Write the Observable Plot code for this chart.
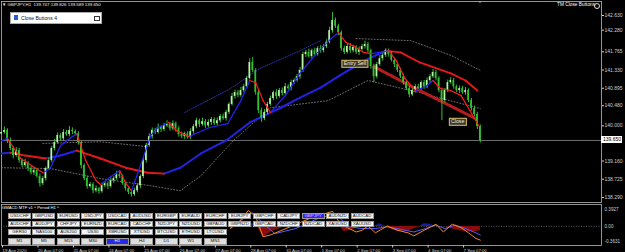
<!DOCTYPE html>
<html>
<head>
<meta charset="utf-8">
<script src="https://cdn.jsdelivr.net/npm/d3@7"></script>
<script src="https://cdn.jsdelivr.net/npm/@observablehq/plot@0.6"></script>
<style>
  html, body { margin:0; padding:0; background:#000; }
  #wrap { position:relative; width:625px; height:252px; background:#000; overflow:hidden;
          font-family:"Liberation Sans", Arial, sans-serif; }
  #wrap svg { position:absolute; left:0; }
  .t { position:absolute; white-space:nowrap; line-height:1; color:#fff; }
  .tag { position:absolute; white-space:nowrap; line-height:1; color:#f2ead0; font-size:5.2px; background:#3a3a34;
         border:0.7px solid #d2ba68; padding:0.6px 1.5px; transform:translate(-50%,-50%); }
  .btn { position:absolute; box-sizing:border-box; background:#f3f3f3; border:0.5px solid #999;
         color:#111; font-size:4.4px; line-height:1; display:flex; align-items:center; justify-content:center; white-space:nowrap; }
  .btn.tf { background:#dedede; }
  .btn.on { background:#2a2ae6; color:#fff; }
  .btn.onp { background:#2a2ae6; color:#f4b4ff; }
</style>
</head>
<body>
<div id="wrap"></div>
<script>
// ---------- DATA (GBPJPY H1, one candle per 2 bars) ----------
const closes = [
139.84,139.89,139.65,139.46,139.29,139.41,139.17,139.05,139.12,138.98,
138.88,138.93,138.79,138.62,138.74,138.98,139.17,139.46,139.60,139.77,
139.69,139.84,139.79,139.89,139.86,139.81,139.60,139.05,138.74,138.55,
138.60,138.45,138.50,138.43,138.57,138.62,138.55,138.69,138.74,138.83,
138.79,138.62,138.50,138.41,138.36,138.45,138.57,138.79,139.17,139.53,
139.74,139.89,139.84,139.96,139.91,140.00,140.03,139.93,140.05,139.93,
139.79,139.74,139.81,139.72,139.86,139.98,140.12,140.03,140.10,140.00,
140.08,140.15,140.05,140.12,140.22,140.17,140.32,140.51,140.70,140.79,
140.72,140.84,140.93,141.13,141.51,141.32,140.79,140.36,140.17,140.32,
140.51,140.65,140.79,140.70,140.84,140.77,140.93,140.89,141.03,141.08,
141.17,141.32,141.70,141.75,141.65,141.79,141.70,141.84,141.79,141.89,
141.99,142.27,142.51,142.37,142.22,141.84,141.75,141.89,141.79,141.87,
141.75,141.82,141.89,141.94,141.79,141.41,141.17,141.46,141.60,141.68,
141.79,141.70,141.56,141.46,141.32,141.17,141.03,140.89,140.74,140.84,
140.93,140.89,141.03,140.93,141.08,141.17,141.27,141.13,140.84,140.60,
140.84,141.03,141.08,140.93,140.84,140.89,140.79,140.84,140.60,140.41,
140.27,139.98,139.65];
const firstOpen = 139.80;
const wickHi = [
0.05,0.08,0.04,0.06,0.03,0.07,0.05,0.04,0.08,0.03,
0.05,0.07,0.04,0.06,0.05,0.04,0.06,0.05,0.08,0.06,
0.04,0.07,0.05,0.09,0.06,0.04,0.05,0.03,0.04,0.06,
0.05,0.04,0.07,0.03,0.06,0.05,0.04,0.07,0.05,0.09,
0.06,0.04,0.03,0.05,0.04,0.06,0.05,0.04,0.06,0.05,
0.07,0.06,0.05,0.08,0.04,0.06,0.09,0.05,0.07,0.04,
0.05,0.06,0.04,0.05,0.07,0.05,0.06,0.04,0.08,0.05,
0.06,0.05,0.04,0.07,0.05,0.06,0.05,0.04,0.07,0.06,
0.05,0.08,0.06,0.05,0.09,0.12,0.04,0.05,0.06,0.07,
0.05,0.06,0.04,0.07,0.05,0.06,0.08,0.05,0.06,0.04,
0.05,0.07,0.06,0.05,0.08,0.04,0.06,0.05,0.07,0.05,
0.06,0.08,0.19,0.06,0.05,0.04,0.06,0.05,0.07,0.05,
0.04,0.06,0.05,0.08,0.05,0.04,0.06,0.05,0.07,0.06,
0.05,0.04,0.06,0.05,0.04,0.05,0.06,0.04,0.05,0.07,
0.05,0.06,0.04,0.05,0.06,0.05,0.07,0.05,0.04,0.06,
0.05,0.06,0.07,0.05,0.04,0.06,0.05,0.07,0.04,0.05,
0.06,0.05,0.04];
const wickLo = [
0.06,0.04,0.07,0.05,0.08,0.04,0.06,0.05,0.04,0.07,
0.05,0.06,0.04,0.08,0.05,0.06,0.04,0.05,0.06,0.04,
0.05,0.06,0.04,0.05,0.07,0.05,0.06,0.08,0.05,0.06,
0.04,0.07,0.05,0.06,0.04,0.05,0.07,0.04,0.06,0.05,
0.05,0.04,0.06,0.05,0.06,0.04,0.05,0.07,0.05,0.06,
0.04,0.06,0.05,0.04,0.07,0.05,0.04,0.06,0.05,0.08,
0.06,0.05,0.07,0.04,0.05,0.06,0.05,0.07,0.04,0.06,
0.05,0.07,0.04,0.06,0.05,0.04,0.06,0.05,0.04,0.06,
0.05,0.04,0.06,0.05,0.04,0.05,0.06,0.07,0.09,0.05,
0.06,0.04,0.05,0.07,0.04,0.06,0.05,0.04,0.06,0.05,
0.04,0.06,0.05,0.07,0.04,0.06,0.05,0.04,0.06,0.05,
0.05,0.04,0.06,0.05,0.07,0.06,0.05,0.04,0.06,0.05,
0.05,0.07,0.04,0.06,0.05,0.06,0.14,0.05,0.04,0.06,
0.05,0.06,0.04,0.07,0.05,0.04,0.06,0.05,0.07,0.04,
0.06,0.05,0.04,0.06,0.05,0.07,0.04,0.06,0.05,0.48,
0.06,0.05,0.04,0.06,0.05,0.07,0.04,0.06,0.05,0.06,
0.05,0.07,0.06];

// fast MA (colour changes with direction)
const fastBars = [0,4,13,28,33,40,47,51,57,64,67,74,80,84,88,94,101,106,113,118,127,131,141,153,162,168,172,177,182,192,202,212,223,228,233,240,245,250,256,262,267,273,280,287,292,297,304,311,317,323];
const fastVals = [139.64,139.70,139.22,138.88,138.98,139.53,139.72,139.81,139.17,138.69,138.60,138.79,138.93,138.64,138.45,139.05,139.77,139.96,140.08,139.89,139.74,139.81,139.96,140.05,140.60,141.08,141.03,140.60,140.32,140.72,141.25,141.68,142.08,142.22,141.99,141.87,141.75,141.72,141.75,141.79,141.56,141.13,140.84,140.93,141.08,140.89,140.84,140.72,140.36,140.00];
// slow MA
const slowBars = [0,6,16,30,40,51,67,84,99,110,121,135,152,168,189,202,216,229,246,260,270,283,304,314,322];
const slowVals = [139.34,139.36,139.29,139.22,139.29,139.41,139.22,139.00,138.88,138.86,139.00,139.34,139.65,140.08,140.43,140.67,140.91,141.20,141.56,141.79,141.75,141.51,141.25,141.08,140.84];
// dotted envelopes / channels
const lowerBars = [0,33,67,101,121,135,157,182,221,248,283,324];
const lowerVals = [139.00,138.98,138.74,138.57,138.45,138.81,139.65,140.43,140.60,141.08,140.79,140.41];
const upperABars = [28,67,99];
const upperAVals = [139.58,139.62,139.50];
const upperBBars = [240,277,304,324];
const upperBVals = [142.08,142.03,141.68,141.32];
const blueDotBars = [124,155,175,202,216];
const blueDotVals = [140.32,140.89,141.37,141.79,142.03];
const redDotBars = [252,283,321];
const redDotVals = [141.41,140.84,140.17];

const currentPrice = 139.65;
const priceTicks = [142.630,142.280,141.765,141.330,140.895,140.480,140.000,139.160,138.725,138.290];
const tagBars = [239.5, 309];
const tagPrices = [141.47, 140.09];
const tagTexts = ["Entry Sell", "Close"];

// MACD MTF pane
const macdOBars = [155,162,167,172,177,182,196,209,224,229,234,240,244,248,253,261,268,275,279,286,294,299,305,311,316,321,324];
const macdOVals = [-0.05,0.15,0.37,0.23,-0.24,-0.20,0.00,0.19,0.35,0.07,-0.03,-0.13,-0.09,0.01,-0.15,0.01,-0.09,-0.15,-0.22,-0.09,0.05,-0.13,0.05,-0.03,-0.15,-0.28,-0.32];
const macdBBars = [155,165,170,177,185,199,216,226,233,236,244,253,261,270,279,287,294,300,307,314,321,324];
const macdBVals = [-0.03,0.21,0.31,0.07,-0.17,-0.05,0.21,0.27,0.07,-0.01,-0.05,-0.05,-0.01,-0.07,-0.13,-0.05,0.03,-0.05,0.03,-0.05,-0.15,-0.20];
const histBars = [150,160,168,173,177,183,192,210,218,226,229,232,237,241,252,256,260,264,268,276,283,286,290,294,301,304,310,318,324];
const histVals = [0,0.08,0.10,0,-0.25,-0.12,0,0,0.04,0.06,0,-0.12,-0.09,0,0,0.06,0,-0.07,-0.12,-0.10,0,0.06,0.05,0,0,-0.05,-0.10,-0.13,-0.10];
const macdTicks = [0.3927, 0, -0.3631];

const dayBars = [0,24,48,72,96,120,144,168,192,216,240,264,288,312];
const dayLabels = ["19 Aug 2020","20 Aug 07:00","21 Aug 07:00","24 Aug 07:00","25 Aug 07:00","26 Aug 07:00","27 Aug 07:00","28 Aug 07:00","31 Aug 07:00","1 Sep 07:00","2 Sep 07:00","3 Sep 07:00","4 Sep 07:00","7 Sep 07:00"];

const row1 = ["USDCHF","GBPUSD","EURUSD","USDJPY","USDCAD","AUDUSD","EURGBP","EURAUD","EURCHF","EURJPY","GBPCHF","CADJPY","GBPJPY","AUDNZD","AUDCAD"];
const row2 = ["AUDCHF","AUDJPY","CHFJPY","EURNZD","EURCAD","CADCHF","NZDJPY","NZDUSD","GBPAUD","GBPNZD","GBPCAD","NZDCHF","NZDCAD","XAGUSD","XAUUSD"];
const row3 = ["GER30","NAS100","AUS200","US30","XBRUSD","XTIUSD","BTCUSD","ETHUSD","LTCUSD"];
const row4 = ["M1","M5","M15","M30","H1","H4","D1","W1","MN1"];

// ---------- derived tables ----------
const candles = closes.map((c, i) => {
  const o = i ? closes[i - 1] : firstOpen;
  return {bar: 2 * i, open: o, close: c, high: Math.max(o, c) + wickHi[i], low: Math.min(o, c) - wickLo[i], up: c >= o};
});
const pts = (bars, vals) => bars.map((b, i) => ({bar: b, v: vals[i]}));
function segs(bars, vals) {
  const s = [];
  for (let i = 1; i < bars.length; i++) s.push({x1: bars[i-1], y1: vals[i-1], x2: bars[i], y2: vals[i], up: vals[i] >= vals[i-1]});
  return s;
}
const fastSeg = segs(fastBars, fastVals);
const slowSeg = segs(slowBars, slowVals);
const dayMap = new Map(dayBars.map((b, i) => [b, dayLabels[i]]));
const BLUE = "#2424ff", RED = "#ff1c1c";
const FONT = "Liberation Sans, Arial, sans-serif";

const wrap = document.getElementById("wrap");

// ---------- main price pane ----------
const main = Plot.plot({
  width: 625, height: 203,
  marginLeft: 1, marginRight: 24, marginTop: 1, marginBottom: 1,
  style: {background: "transparent", color: "#ccc", fontFamily: FONT, fontSize: "5px", overflow: "visible"},
  x: {domain: [0, 406], axis: null, label: null},
  y: {domain: [138.29, 142.63], range: [197, 15], axis: null, label: null},
  marks: [
    Plot.frame({stroke: "#b8b8b8", strokeWidth: 0.8}),
    Plot.ruleY([currentPrice], {stroke: "#8a8a8a", strokeWidth: 0.8}),
    Plot.line(pts(lowerBars, lowerVals), {x: "bar", y: "v", stroke: "#8c8c8c", strokeWidth: 0.8, strokeDasharray: "1,2"}),
    Plot.line(pts(upperABars, upperAVals), {x: "bar", y: "v", stroke: "#8c8c8c", strokeWidth: 0.8, strokeDasharray: "1,2"}),
    Plot.line(pts(upperBBars, upperBVals), {x: "bar", y: "v", stroke: "#8c8c8c", strokeWidth: 0.8, strokeDasharray: "1,2"}),
    Plot.line(pts(blueDotBars, blueDotVals), {x: "bar", y: "v", stroke: "#3434d0", strokeWidth: 0.9, strokeDasharray: "1,1.5"}),
    Plot.line(pts(redDotBars, redDotVals), {x: "bar", y: "v", stroke: "#b81c1c", strokeWidth: 3, strokeDasharray: "1,1"}),
    Plot.link(slowSeg.filter(d => d.up), {x1: "x1", y1: "y1", x2: "x2", y2: "y2", stroke: "#2323e6", strokeWidth: 2, strokeLinecap: "round"}),
    Plot.link(slowSeg.filter(d => !d.up), {x1: "x1", y1: "y1", x2: "x2", y2: "y2", stroke: "#e81818", strokeWidth: 1.9, strokeLinecap: "round"}),
    Plot.ruleX(candles, {x: "bar", y1: "low", y2: "high", stroke: "#3ad23a", strokeWidth: 0.9}),
    Plot.rect(candles.filter(d => d.up), {x1: d => d.bar - 0.55, x2: d => d.bar + 0.55, y1: "open", y2: "close", fill: "#b8f5a8"}),
    Plot.rect(candles.filter(d => !d.up), {x1: d => d.bar - 0.55, x2: d => d.bar + 0.55, y1: "open", y2: "close", fill: "#2fc42f"}),
    Plot.link(fastSeg.filter(d => d.up), {x1: "x1", y1: "y1", x2: "x2", y2: "y2", stroke: BLUE, strokeWidth: 1.2, strokeLinecap: "round"}),
    Plot.link(fastSeg.filter(d => !d.up), {x1: "x1", y1: "y1", x2: "x2", y2: "y2", stroke: RED, strokeWidth: 1.2, strokeLinecap: "round"}),
    Plot.axisY(priceTicks, {anchor: "right", label: null, tickSize: 2, tickPadding: 1, tickFormat: d => d.toFixed(3), fontSize: 5, color: "#cfcfcf"})
  ]
});
main.style.top = "0px";
wrap.appendChild(main);
const xs = main.scale("x"), ys = main.scale("y");

// ---------- indicator pane ----------
const hist = pts(histBars, histVals);
const ind = Plot.plot({
  width: 625, height: 49,
  marginLeft: 1, marginRight: 24, marginTop: 1, marginBottom: 7,
  style: {background: "transparent", color: "#ccc", fontFamily: FONT, fontSize: "5px", overflow: "visible"},
  x: {domain: [0, 406], axis: null, label: null},
  y: {domain: [-0.3631, 0.3927], range: [38.5, 6], axis: null, label: null},
  marks: [
    Plot.frame({stroke: "#b8b8b8", strokeWidth: 0.8}),
    Plot.ruleY([0], {stroke: "#7a7a7a", strokeWidth: 0.7, strokeDasharray: "1,1.5"}),
    Plot.areaY(hist, {x: "bar", y: d => Math.max(0, d.v), fill: "#1c1ca0"}),
    Plot.areaY(hist, {x: "bar", y: d => Math.min(0, d.v), fill: "#8c0c0c"}),
    Plot.line(pts(macdBBars, macdBVals), {x: "bar", y: "v", stroke: "#5a5aff", strokeWidth: 1}),
    Plot.line(pts(macdOBars, macdOVals), {x: "bar", y: "v", stroke: "#f08a2a", strokeWidth: 1}),
    Plot.axisY(macdTicks, {anchor: "right", label: null, tickSize: 0, tickPadding: 3, tickFormat: d => d === 0 ? "0.00" : String(d), fontSize: 4.6, color: "#cfcfcf"}),
    Plot.axisX(dayBars, {anchor: "bottom", label: null, tickSize: 2.5, tickPadding: 0.5, tickFormat: d => dayMap.get(d), textAnchor: "start", dx: 1, fontSize: 4.3, color: "#cfcfcf"})
  ]
});
ind.style.top = "203px";
wrap.appendChild(ind);

// ---------- terminal overlays ----------
function add(html, css, cls) {
  const d = document.createElement("div");
  d.className = cls || "t"; d.innerHTML = html; d.style.cssText = css; wrap.appendChild(d); return d;
}
// trade labels placed through the price chart's scales
tagTexts.forEach((txt, i) => add(txt, `left:${xs.apply(tagBars[i])}px;top:${ys.apply(tagPrices[i])}px;`, "tag"));

add("&#9660;&nbsp;GBPJPY,H1&nbsp;&nbsp;139.747 139.826 139.589 139.650", "left:2px;top:3px;font-size:4.4px;color:#eee;");
add("", `left:${xs.apply(324) - 2}px;top:1px;width:0;height:0;border-left:2px solid transparent;border-right:2px solid transparent;border-top:2.5px solid #aaa;`);
add("TM Close Buttons", "left:557px;top:3px;font-size:4.8px;color:#fff;");
add("", "left:594px;top:2.5px;width:4px;height:4px;border:0.7px solid #ddd;border-radius:50%;");
add("", "left:10px;top:12px;width:92px;height:12px;background:#fff;border:0.6px solid #aaa;box-sizing:border-box;");
add("", "left:14px;top:15px;width:3.5px;height:4.5px;background:#2c5bd6;");
add("Close Buttons 4", "left:21px;top:15.5px;font-size:5.1px;color:#111;");
add("", "left:94px;top:16px;width:4px;height:3px;border:0.6px solid #333;border-top-width:1.2px;");
const yPx = ys.apply(currentPrice);
add("139.650", `left:601px;top:${yPx - 3.5}px;width:21px;height:7px;background:#fff;color:#000;font-size:5px;display:flex;align-items:center;padding-left:2px;box-sizing:border-box;`);
add("GMACD MTF v1 ^ Period H1 ^", "left:2px;top:206px;font-size:4.2px;color:#fff;");

const pitch = 24.47;
function row(names, top, h, extra) {
  names.forEach((n, i) => {
    let cls = "btn" + (extra ? " " + extra : "");
    if (n === "GBPJPY") cls += " onp";
    if (n === "H1") cls += " on";
    add(n, `left:${8 + i * pitch}px;top:${top}px;width:23px;height:${h}px;`, cls);
  });
}
row(row1, 212.5, 6.5);
row(row2, 220.5, 6.5);
row(row3, 228.5, 6.5);
row(row4, 237.5, 7, "tf");
</script>
</body>
</html>
